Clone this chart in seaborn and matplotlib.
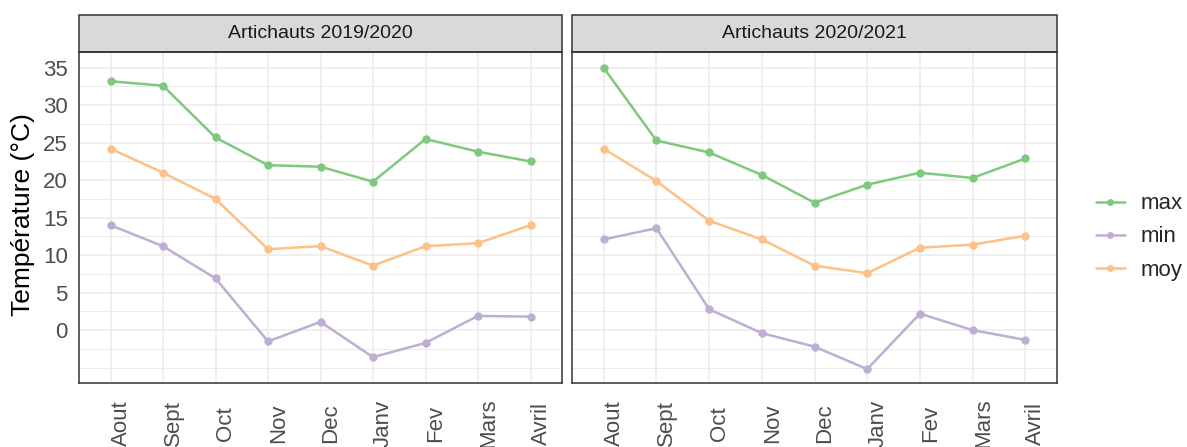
import matplotlib
matplotlib.use("Agg")
import matplotlib.pyplot as plt
from matplotlib.patches import Rectangle
from matplotlib.lines import Line2D
import seaborn as sns
import pandas as pd
import numpy as np

# data
months = ["Aout", "Sept", "Oct", "Nov", "Dec", "Janv", "Fev", "Mars", "Avril"]
seasons = ["Artichauts 2019/2020", "Artichauts 2020/2021"]

max_1920 = [33.2, 32.6, 25.7, 22.0, 21.8, 19.8, 25.5, 23.8, 22.5]
moy_1920 = [24.2, 21.0, 17.5, 10.8, 11.2, 8.6, 11.2, 11.6, 14.0]
min_1920 = [14.0, 11.2, 6.9, -1.5, 1.1, -3.6, -1.7, 1.9, 1.8]

max_2021 = [35.0, 25.3, 23.7, 20.7, 17.0, 19.4, 21.0, 20.3, 22.9]
moy_2021 = [24.2, 19.9, 14.6, 12.1, 8.6, 7.6, 11.0, 11.4, 12.6]
min_2021 = [12.1, 13.6, 2.8, -0.4, -2.2, -5.2, 2.2, 0.0, -1.3]

variables = ["max", "min", "moy"]
colors = {"max": "#7FC97F", "min": "#BEAED4", "moy": "#FDC086"}

# long form table
rows = []
for season, series in zip(seasons, [
        {"max": max_1920, "min": min_1920, "moy": moy_1920},
        {"max": max_2021, "min": min_2021, "moy": moy_2021}]):
    for var in variables:
        for i, m in enumerate(months):
            rows.append({"saison": season, "variable": var,
                         "pos": i, "mois": m, "temp": series[var][i]})
df = pd.DataFrame(rows)

sns.set_theme(style="white")
plt.rcParams["font.family"] = ["Liberation Sans", "DejaVu Sans"]

W, H = 1187, 447
fig = plt.figure(figsize=(W / 100, H / 100), dpi=100)

panels = [(79, 562), (572, 1057)]
top, bottom = 52, 383
strip_top = 15

for k, season in enumerate(seasons):
    x0, x1 = panels[k]
    ax = fig.add_axes([x0 / W, 1 - bottom / H, (x1 - x0) / W, (bottom - top) / H])
    sub = df[df["saison"] == season]

    # grid
    for y in np.arange(-5, 37.6, 2.5):
        major = (y % 5 == 0) and y >= 0
        ax.axhline(y, color="#EBEBEB", lw=1.1 if major else 0.7, zorder=0)
    for i in range(len(months)):
        ax.axvline(i, color="#EBEBEB", lw=1.1, zorder=0)

    sns.lineplot(data=sub, x="pos", y="temp", hue="variable",
                 hue_order=variables, palette=colors, marker="o",
                 markersize=6, markeredgewidth=0, linewidth=1.8,
                 sort=False, legend=False, ax=ax)

    ax.set_xlim(-0.6, len(months) - 0.4)
    ax.set_ylim(-7.05, 37.1)
    ax.set_xticks(range(len(months)))
    ax.set_xticklabels(months)
    ax.set_yticks(range(0, 36, 5))
    ax.set_xlabel("")
    ax.set_ylabel("")
    ax.tick_params(axis="both", colors="#333333", length=5, width=1.0,
                   labelcolor="#4D4D4D", labelsize=16)
    ax.tick_params(axis="x", pad=24)
    ax.tick_params(axis="y", pad=3)
    plt.setp(ax.get_xticklabels(), rotation=90, va="center", ha="left")
    if k > 0:
        ax.tick_params(axis="y", left=False, labelleft=False)
    for s in ax.spines.values():
        s.set_color("#333333")
        s.set_linewidth(1.1)

    # facet strip
    h = (top - strip_top) / (bottom - top)
    ax.add_patch(Rectangle((0, 1), 1, h, transform=ax.transAxes,
                           facecolor="#D9D9D9", edgecolor="#333333",
                           lw=1.1, clip_on=False))
    ax.text(0.5, 1 + h / 2, season, transform=ax.transAxes, ha="center",
            va="center", fontsize=14, color="#1A1A1A")

fig.text(23 / W, 1 - 215 / H, "Température (°C)", rotation=90,
         ha="center", va="center", fontsize=19, color="black")

handles = [Line2D([0], [0], color=colors[v], lw=1.8, marker="o",
                  markersize=5, markeredgewidth=0) for v in variables]
fig.legend(handles, variables, loc="center left",
           bbox_to_anchor=(1087 / W, 1 - 237 / H), frameon=False,
           fontsize=16, handlelength=1.3, handletextpad=0.7,
           labelspacing=0.55, borderaxespad=0)

fig.savefig("out.png", dpi=100)
